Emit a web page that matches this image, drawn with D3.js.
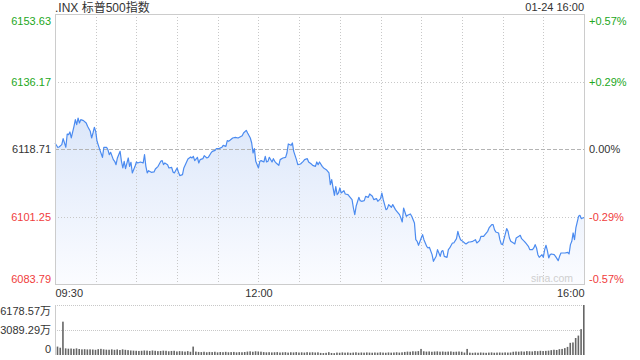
<!DOCTYPE html>
<html>
<head>
<meta charset="utf-8">
<script src="https://cdn.jsdelivr.net/npm/d3@7"></script>
<style>
body { margin: 0; background: #fff; }
</style>
</head>
<body>
<div class="chart_area"></div>
<script>
var title = ".INX 标普500指数";
var stamp = "01-24 16:00";
var watermark = "sina.com";
var prevClose = 6118.71;

var priceTicks = [6083.79, 6101.25, 6118.71, 6136.17, 6153.63];
var pctLabels = ["-0.57%", "-0.29%", "0.00%", "+0.29%", "+0.57%"];
var timeTicks = [0, 150, 390];            // minutes after 09:30
var timeLabels = ["09:30", "12:00", "16:00"];
var halfHours = [30, 60, 90, 120, 150, 180, 210, 240, 270, 300, 330, 360];
var volTicks = [0, 3089.29, 6178.57];
var volLabels = ["0", "3089.29万", "6178.57万"];

// intraday trace, minutes after 09:30
var minutes = [0,2,3,5,6,8,9,10,11,12,14,15,16,17,18,19,21,23,24,26,27,28,29,30,31,33,35,36,38,39,40,41,43,44,45,46,48,49,50,51,52,54,55,56,57,59,60,61,63,65,66,67,68,69,71,73,74,76,78,79,80,81,83,84,86,87,88,90,91,92,94,95,97,98,100,101,102,103,105,106,107,109,110,112,113,115,116,118,119,121,123,124,126,127,128,
  129,131,133,135,138,139,141,142,144,145,146,147,148,150,151,152,154,155,156,157,158,160,161,162,163,165,166,168,170,171,172,174,175,176,178,179,181,183,184,186,187,189,190,192,193,194,195,197,198,200,202,203,204,205,206,207,208,209,210,211,213,214,216,217,219,220,221,222,224,225,226,228,229,231,232,234,235,237,238,240,241,242,244,245,246,248,249,251,252,254,255,256,257,259,260,
  262,263,265,266,267,268,270,271,272,274,275,276,278,279,281,282,284,285,286,287,289,290,291,293,294,296,297,298,299,300,302,303,305,306,308,310,311,313,314,316,317,319,320,322,323,324,325,327,328,329,330,332,333,334,335,336,338,339,340,342,343,344,346,347,349,350,352,353,354,355,356,357,359,360,361,362,363,364,365,366,368,369,371,372,373,375,376,378,379,380,381,382,383,384,386,387,388,389,390];

var prices = [6120.27,6119.15,6119.23,6119.84,6121.39,6119.15,6122.59,6122.42,6123.11,6121.56,6124.58,6126.30,6125.01,6126.73,6125.44,6126.30,6126.04,6125.44,6124.58,6123.28,6121.56,6122.85,6124.32,6123.28,6120.70,6118.54,6116.56,6119.15,6119.15,6118.54,6117.25,6117.85,6115.96,6115.52,6114.66,6116.39,6118.11,6115.52,6113.80,6115.52,6113.63,6116.39,6114.23,6115.27,6112.51,6114.23,6115.35,6115.09,6115.35,6115.09,6117.25,6114.23,6112.51,6113.11,6112.68,6112.77,6113.54,6114.23,6115.52,6115.70,6114.66,6115.09,6114.66,6113.80,6113.97,6112.77,6112.51,6113.80,6112.77,6111.82,6112.08,6113.80,6115.35,6116.13,6116.65,6116.39,6116.82,6115.70,6116.56,6115.09,6115.96,6116.21,6116.99,6116.39,6116.56,6117.68,6118.11,6118.37,6118.80,6118.80,6119.15,6119.66,6119.40,6120.87,6120.70,
  6120.96,6121.56,6121.73,6121.56,6122.16,6122.85,6123.54,6122.85,6121.56,6120.27,6117.68,6118.80,6115.52,6113.80,6115.52,6115.70,6115.35,6116.82,6115.35,6115.52,6116.56,6115.35,6116.21,6115.52,6115.09,6114.49,6115.96,6116.39,6116.56,6117.68,6120.01,6119.66,6120.27,6118.11,6115.96,6114.66,6114.83,6115.52,6115.96,6116.21,6115.35,6114.83,6114.49,6114.23,6115.35,6114.66,6115.35,6114.23,6113.80,6113.37,6112.51,6109.49,6110.78,6108.63,6106.73,6108.97,6106.90,6107.33,6108.63,6107.33,6107.94,6107.08,6106.90,6106.47,6105.61,6103.45,6101.73,6103.89,6106.21,6105.35,6105.18,6105.35,6106.47,6106.21,6107.08,6106.47,6105.61,6105.87,6105.18,6105.87,6107.33,6105.61,6103.02,6103.28,6104.32,6103.63,6104.32,6103.02,6102.59,6101.73,6100.87,6099.83,6103.45,6101.30,6101.56,
  6101.90,6101.30,6099.57,6095.26,6094.83,6093.80,6095.69,6096.56,6095.26,6093.54,6093.11,6093.28,6091.38,6089.66,6090.95,6092.68,6090.95,6092.25,6092.42,6090.95,6090.69,6092.68,6093.11,6094.40,6094.40,6095.52,6097.42,6096.12,6095.26,6095.00,6094.40,6094.14,6094.66,6094.66,6094.83,6095.26,6094.40,6095.00,6096.12,6096.12,6096.56,6097.42,6098.28,6099.14,6099.14,6097.85,6097.25,6096.99,6095.26,6094.14,6093.97,6096.73,6098.11,6097.42,6095.69,6094.83,6094.40,6094.14,6095.69,6096.12,6096.38,6095.52,6094.83,6094.40,6093.54,6092.68,6092.68,6093.11,6093.97,6093.11,6091.38,6090.69,6091.38,6090.69,6092.68,6093.80,6092.42,6090.52,6091.38,6091.56,6091.38,6090.95,6089.83,6090.95,6091.81,6091.81,6091.81,6091.99,6091.56,6093.97,6094.83,6096.99,6095.26,6098.28,6101.30,6101.56,6100.70,6100.87,6100.97];

// volume per 2-minute slot (万), slot ends at 09:32 ... 16:00
var volumes = [1040,900,4120,820,780,800,760,820,740,700,
  720,690,700,680,640,720,760,700,660,650,
  700,640,690,620,700,640,600,560,540,520,
  500,520,560,540,500,560,520,480,500,540,
  520,460,500,520,440,480,460,420,480,400,
  1040,420,380,360,400,340,380,360,400,330,
  370,350,390,340,360,380,330,360,340,370,
  420,450,400,460,430,410,360,330,350,320,
  340,360,310,330,350,300,340,320,360,310,
  330,300,350,320,340,310,330,260,240,270,
  350,250,230,300,280,320,290,310,270,300,
  330,280,310,290,320,300,280,310,290,330,
  300,280,320,290,310,340,300,330,380,420,
  400,460,440,480,750,460,420,440,400,430,
  450,410,430,400,420,440,390,410,430,400,
  300,750,290,270,300,280,310,290,270,300,
  320,280,300,310,290,320,300,310,400,430,
  410,450,420,480,460,440,500,470,520,490,
  510,540,600,650,620,720,750,850,1000,1500,
  1550,2100,2400,3200,6178.57];

var fontStack = "Arial, 'Liberation Sans', 'Noto Sans CJK SC', sans-serif";
var green = "#22a722", red = "#f03c3c", dark = "#333";
var plot = { left: 55, right: 584, top: 14, bottom: 284 };
var volBox = { top: 305, bottom: 355 };

var svg = d3.select(".chart_area")
    .append("svg")
    .attr("width", 640)
    .attr("height", 360)
    .style("font-family", fontStack);

var x = d3.scaleLinear().domain([0, 390]).range([plot.left, plot.right]);
var y = d3.scaleLinear().domain([priceTicks[0], priceTicks[4]]).range([plot.bottom, plot.top]);
var yVol = d3.scaleLinear().domain([0, volTicks[2]]).range([volBox.bottom, volBox.top]);

var points = minutes.map(function (m, i) { return [m, prices[i]]; });

function tickColor(v) {
    if (v > prevClose + 0.001) return green;
    if (v < prevClose - 0.001) return red;
    return dark;
}

// fill under the line
var grad = svg.append("defs").append("linearGradient")
    .attr("id", "areaFill")
    .attr("x1", 0).attr("y1", 0).attr("x2", 0).attr("y2", 1);
grad.append("stop").attr("offset", "0%").attr("stop-color", "#dce7fa");
grad.append("stop").attr("offset", "100%").attr("stop-color", "#fbfcff");

svg.append("path")
    .datum(points)
    .attr("fill", "url(#areaFill)")
    .attr("d", d3.area()
        .x(function (d) { return x(d[0]); })
        .y0(plot.bottom)
        .y1(function (d) { return y(d[1]); }));

// grid
svg.append("g").selectAll("line")
    .data(halfHours)
    .enter()
    .append("line")
    .attr("x1", function (d) { return Math.round(x(d)) + 0.5; })
    .attr("x2", function (d) { return Math.round(x(d)) + 0.5; })
    .attr("y1", plot.top)
    .attr("y2", plot.bottom)
    .attr("stroke", "#c8c8c8")
    .attr("stroke-dasharray", "1,2");

svg.append("g").selectAll("line")
    .data(priceTicks.slice(1, 4))
    .enter()
    .append("line")
    .attr("x1", plot.left)
    .attr("x2", plot.right)
    .attr("y1", function (d) { return Math.round(y(d)) + 0.5; })
    .attr("y2", function (d) { return Math.round(y(d)) + 0.5; })
    .attr("stroke", function (d) { return d == prevClose ? "#b4b4b4" : "#c8c8c8"; })
    .attr("stroke-dasharray", function (d) { return d == prevClose ? "4,2" : "1,2"; });

// price line
svg.append("path")
    .datum(points)
    .attr("fill", "none")
    .attr("stroke", "#4b8bf0")
    .attr("stroke-width", 1.2)
    .attr("stroke-linejoin", "round")
    .attr("d", d3.line()
        .x(function (d) { return x(d[0]); })
        .y(function (d) { return y(d[1]); }));

// frame
svg.append("rect")
    .attr("x", plot.left + 0.5)
    .attr("y", plot.top + 0.5)
    .attr("width", plot.right - plot.left)
    .attr("height", plot.bottom - plot.top)
    .attr("fill", "none")
    .attr("stroke", "#cccccc");

svg.append("text")
    .attr("x", plot.right - 11)
    .attr("y", plot.bottom - 2)
    .attr("text-anchor", "end")
    .style("font-size", "10.5px")
    .style("fill", "#cfcfcf")
    .text(watermark);

// axes
var yLeft = svg.append("g")
    .attr("transform", "translate(" + plot.left + ",0)")
    .call(d3.axisLeft(y).tickValues(priceTicks).tickSize(0).tickPadding(4).tickFormat(d3.format(".2f")));
yLeft.select(".domain").remove();
yLeft.attr("font-family", fontStack).attr("font-size", 11);
yLeft.selectAll("text")
    .style("fill", tickColor)
    .attr("dy", function (d, i) { return i == 0 ? -2 : i == 4 ? 10 : 3.8; });

var yRight = svg.append("g")
    .attr("transform", "translate(" + plot.right + ",0)")
    .call(d3.axisRight(y).tickValues(priceTicks).tickSize(0).tickPadding(5)
        .tickFormat(function (d, i) { return pctLabels[i]; }));
yRight.select(".domain").remove();
yRight.attr("font-family", fontStack).attr("font-size", 11);
yRight.selectAll("text")
    .style("fill", tickColor)
    .attr("dy", function (d, i) { return i == 0 ? -2 : i == 4 ? 10 : 3.8; });

var xAxis = svg.append("g")
    .attr("transform", "translate(0," + plot.bottom + ")")
    .call(d3.axisBottom(x).tickValues(timeTicks).tickSize(0).tickPadding(5)
        .tickFormat(function (d, i) { return timeLabels[i]; }));
xAxis.select(".domain").remove();
xAxis.attr("font-family", fontStack).attr("font-size", 11);
xAxis.selectAll("text")
    .style("fill", dark)
    .attr("text-anchor", function (d, i) { return i == 0 ? "start" : i == timeTicks.length - 1 ? "end" : "middle"; });

svg.append("text")
    .attr("x", plot.left)
    .attr("y", 12)
    .style("font-size", "12px")
    .style("fill", dark)
    .text(title);

svg.append("text")
    .attr("x", plot.right)
    .attr("y", 11)
    .attr("text-anchor", "end")
    .style("font-size", "11px")
    .style("fill", dark)
    .text(stamp);

// volume panel
svg.append("g").selectAll("line")
    .data(volTicks.slice(1))
    .enter()
    .append("line")
    .attr("x1", plot.left)
    .attr("x2", plot.right)
    .attr("y1", function (d) { return Math.round(yVol(d)) + 0.5; })
    .attr("y2", function (d) { return Math.round(yVol(d)) + 0.5; })
    .attr("stroke", "#c8c8c8")
    .attr("stroke-dasharray", "1,1");

svg.append("line")
    .attr("x1", plot.left + 0.5)
    .attr("x2", plot.left + 0.5)
    .attr("y1", volBox.top)
    .attr("y2", volBox.bottom)
    .attr("stroke", "#cccccc");

svg.append("g").selectAll("rect")
    .data(volumes)
    .enter()
    .append("rect")
    .attr("x", function (d, i) { return x(2 * (i + 1)) - 1; })
    .attr("y", function (d) { return yVol(d); })
    .attr("width", 1.6)
    .attr("height", function (d) { return volBox.bottom - yVol(d); })
    .attr("fill", "#666");

var yVolAxis = svg.append("g")
    .attr("transform", "translate(" + plot.left + ",0)")
    .call(d3.axisLeft(yVol).tickValues(volTicks).tickSize(0).tickPadding(4)
        .tickFormat(function (d, i) { return volLabels[i]; }));
yVolAxis.select(".domain").remove();
yVolAxis.attr("font-family", fontStack).attr("font-size", 11);
yVolAxis.selectAll("text")
    .style("fill", dark)
    .attr("dy", function (d, i) { return i == 0 ? -3 : i == 2 ? 9.5 : 3.8; });
</script>
</body>
</html>
